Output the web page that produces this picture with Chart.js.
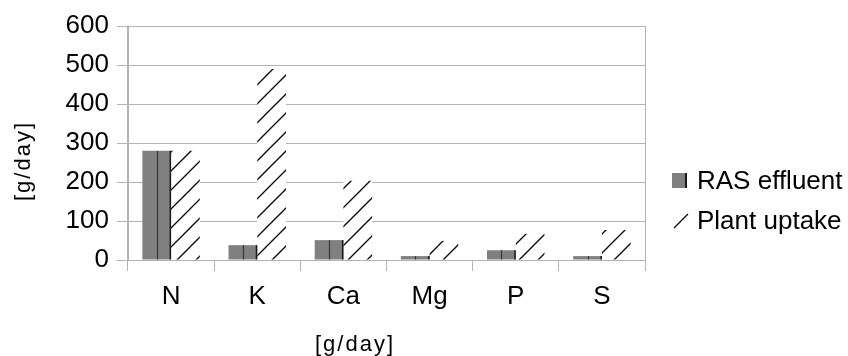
<!DOCTYPE html>
<html><head><meta charset="utf-8">
<script src="https://cdn.jsdelivr.net/npm/chart.js@4/dist/chart.umd.min.js"></script>
<style>html,body{margin:0;padding:0;background:#fff;}#wrap{width:848px;height:356px;}</style>
</head><body><div id="wrap"><canvas id="c" width="848" height="356"></canvas></div>
<script>
const categories = ['N', 'K', 'Ca', 'Mg', 'P', 'S'];
const rasEffluent = [280, 38, 51, 10, 25, 10];
const plantUptake = [280, 490, 203, 49, 67, 77];
const seriesNames = ['RAS effluent', 'Plant uptake'];
const yMin = 0, yMax = 600, yStep = 100;
const yTitle = '[g/day]';
const xTitle = '[g/day]';

const FONT = '"Liberation Sans", Arial, sans-serif';
const GRID = '#b3b3b3';
const canvas = document.getElementById('c');
const ctx0 = canvas.getContext('2d');

function makeHatch() {
  const s = 19;
  const c = document.createElement('canvas');
  c.width = s; c.height = s;
  const g = c.getContext('2d');
  g.fillStyle = '#fff'; g.fillRect(0, 0, s, s);
  g.strokeStyle = '#000'; g.lineWidth = 1.3;
  g.beginPath();
  g.moveTo(0, s); g.lineTo(s, 0);
  g.moveTo(-2, 2); g.lineTo(2, -2);
  g.moveTo(s - 2, s + 2); g.lineTo(s + 2, s - 2);
  g.stroke();
  return ctx0.createPattern(c, 'repeat');
}
const hatch = makeHatch();

const barLines = {
  id: 'barLines',
  afterDatasetsDraw(chart) {
    const c = chart.ctx;
    const meta = chart.getDatasetMeta(0);
    c.save();
    meta.data.forEach(el => {
      const p = el.getProps(['x', 'y', 'base', 'width'], true);
      c.lineWidth = 1.2;
      c.strokeStyle = '#383838';
      c.beginPath(); c.moveTo(Math.round(p.x) + 0.5, p.y); c.lineTo(Math.round(p.x) + 0.5, p.base); c.stroke();
      c.lineWidth = 1.5;
      c.strokeStyle = '#1a1a1a';
      const rx = p.x + p.width / 2 - 0.75;
      c.beginPath(); c.moveTo(rx, p.y); c.lineTo(rx, p.base); c.stroke();
    });
    c.restore();
  }
};

const extras = {
  id: 'extras',
  afterDraw(chart) {
    const c = chart.ctx;
    const area = chart.chartArea;
    c.save();
    c.fillStyle = '#000';
    c.font = '22px ' + FONT;
    c.letterSpacing = '2px';
    c.textAlign = 'center';
    c.textBaseline = 'middle';
    c.fillText(xTitle, 355, 345);
    c.save();
    c.translate(24, 161);
    c.rotate(-Math.PI / 2);
    c.fillText(yTitle, 0, 0);
    c.restore();
    c.letterSpacing = '0px';
    const lx = area.right + 27;
    c.fillStyle = '#808080';
    c.fillRect(lx, 173, 15, 15);
    c.fillStyle = '#1a1a1a';
    c.fillRect(lx + 13, 173, 2, 15);
    c.strokeStyle = '#000';
    c.lineWidth = 1.2;
    c.beginPath(); c.moveTo(lx + 2, 228); c.lineTo(lx + 16, 214); c.stroke();
    c.fillStyle = '#000';
    c.font = '26px ' + FONT;
    c.textAlign = 'left';
    c.textBaseline = 'alphabetic';
    c.fillText(chart.data.datasets[0].label, lx + 25, 189);
    c.fillText(chart.data.datasets[1].label, lx + 25, 229);
    c.restore();
  }
};

new Chart(canvas, {
  type: 'bar',
  data: {
    labels: categories,
    datasets: [
      { label: seriesNames[0], data: rasEffluent, backgroundColor: '#808080', borderWidth: 0,
        categoryPercentage: 0.667, barPercentage: 1.0 },
      { label: seriesNames[1], data: plantUptake, backgroundColor: hatch, borderWidth: 0,
        categoryPercentage: 0.667, barPercentage: 1.0 }
    ]
  },
  options: {
    responsive: false,
    animation: false,
    devicePixelRatio: 1,
    layout: { padding: { top: 26, right: 203, bottom: 0, left: 0 } },
    plugins: { legend: { display: false }, tooltip: { enabled: false } },
    scales: {
      x: {
        grid: {
          offset: true,
          drawOnChartArea: true,
          color: (ctx) => (ctx.tick === undefined || ctx.index === 0) ? GRID : 'rgba(0,0,0,0)',
          tickColor: GRID,
          tickLength: 11,
          lineWidth: 1
        },
        border: { display: true, color: GRID },
        ticks: { color: '#000', font: { family: FONT, size: 26 }, padding: 10 },
        afterFit: (s) => { s.height = 96; }
      },
      y: {
        min: yMin, max: yMax,
        ticks: { stepSize: yStep, color: '#000', font: { family: FONT, size: 26 }, padding: 8 },
        grid: { color: GRID, tickLength: 11, lineWidth: 1 },
        border: { display: true, color: GRID },
        afterFit: (s) => { s.width = 128; }
      }
    }
  },
  plugins: [barLines, extras]
});
</script></body></html>
